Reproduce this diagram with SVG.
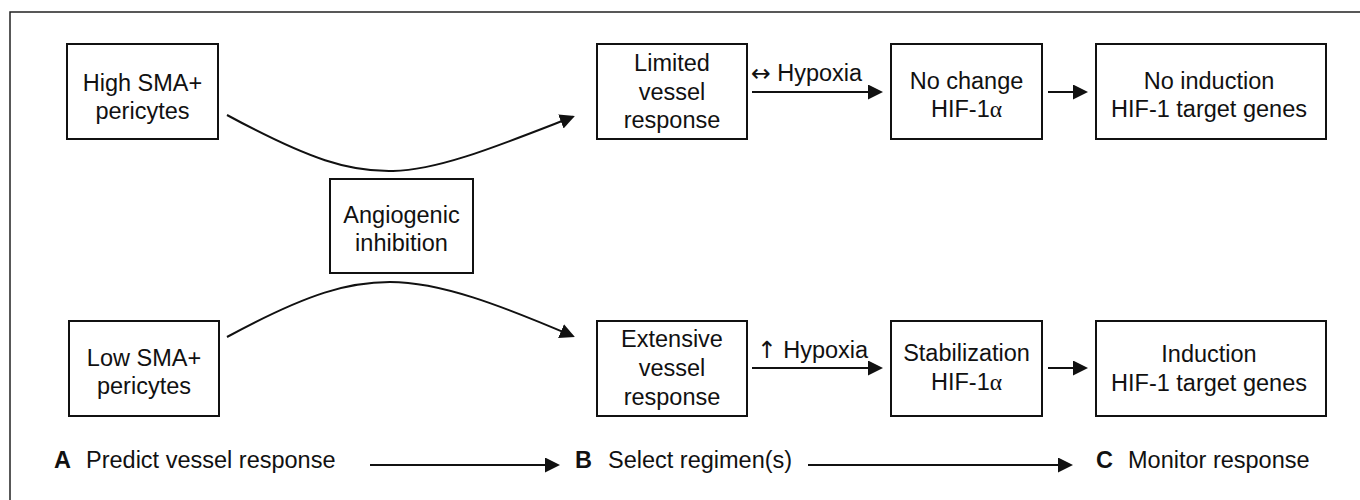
<svg xmlns="http://www.w3.org/2000/svg" width="1360" height="500" viewBox="0 0 1360 500">
  <style>
    .box { fill: #fff; stroke: #111; stroke-width: 2; }
    .t { font-family: "Liberation Sans", Arial, sans-serif; font-size: 23.5px; fill: #111; text-anchor: middle; }
    .l { font-family: "Liberation Sans", Arial, sans-serif; font-size: 23.5px; fill: #111; }
    .b { font-weight: bold; }
    .g { font-family: "Liberation Serif", "Times New Roman", serif; }
    .s { font-family: "DejaVu Sans", sans-serif; }
    .c { fill: none; stroke: #111; stroke-width: 2; }
  </style>
  <defs>
    <marker id="ah" viewBox="0 0 15 15" refX="13" refY="7.5" markerWidth="15" markerHeight="15" markerUnits="userSpaceOnUse" orient="auto">
      <path d="M0,0 L15,7.5 L0,15 z" fill="#111"/>
    </marker>
  </defs>
  <rect x="0" y="0" width="1360" height="500" fill="#fff"/>
  <rect id="frame" x="10" y="12" width="1400" height="560" fill="none" stroke="#222" stroke-width="1.5"/>

  <g id="connectors">
    <path class="c" d="M227,115 C310,160 350,172 393,171 C440,170 500,145 573,116.8" marker-end="url(#ah)"/>
    <path class="c" d="M227,337 C310,292 350,282 390,282 C440,282 500,305 573,336.2" marker-end="url(#ah)"/>
    <line class="c" x1="752" y1="92" x2="881" y2="92" marker-end="url(#ah)"/>
    <line class="c" x1="752" y1="368" x2="881" y2="368" marker-end="url(#ah)"/>
    <line class="c" x1="1048" y1="92" x2="1086" y2="92" marker-end="url(#ah)"/>
    <line class="c" x1="1048" y1="368" x2="1086" y2="368" marker-end="url(#ah)"/>
    <line class="c" x1="370" y1="465" x2="558" y2="465" marker-end="url(#ah)"/>
    <line class="c" x1="808" y1="465" x2="1071" y2="465" marker-end="url(#ah)"/>
    <text class="l" x="751" y="81"><tspan class="s">↔</tspan> Hypoxia</text>
    <text class="l" x="757" y="358"><tspan class="s">↑</tspan> Hypoxia</text>
  </g>

  <g id="high-sma">
    <rect class="box" x="67" y="44" width="151" height="95"/>
    <text class="t" x="142.5" y="91">High SMA+</text>
    <text class="t" x="142.5" y="119">pericytes</text>
  </g>
  <g id="low-sma">
    <rect class="box" x="69" y="321" width="150" height="95"/>
    <text class="t" x="144" y="366">Low SMA+</text>
    <text class="t" x="144" y="394">pericytes</text>
  </g>
  <g id="angiogenic">
    <rect class="box" x="330" y="179" width="143" height="94"/>
    <text class="t" x="401.5" y="223">Angiogenic</text>
    <text class="t" x="401.5" y="251">inhibition</text>
  </g>
  <g id="limited">
    <rect class="box" x="597" y="44" width="150" height="95"/>
    <text class="t" x="672" y="71">Limited</text>
    <text class="t" x="672" y="99.5">vessel</text>
    <text class="t" x="672" y="128">response</text>
  </g>
  <g id="extensive">
    <rect class="box" x="597" y="321" width="150" height="95"/>
    <text class="t" x="672" y="347">Extensive</text>
    <text class="t" x="672" y="376">vessel</text>
    <text class="t" x="672" y="404.5">response</text>
  </g>
  <g id="no-change">
    <rect class="box" x="891" y="44" width="151" height="95"/>
    <text class="t" x="966.5" y="88.5">No change</text>
    <text class="t" x="966.5" y="117">HIF-1<tspan class="g">α</tspan></text>
  </g>
  <g id="stabilization">
    <rect class="box" x="891" y="321" width="151" height="95"/>
    <text class="t" x="966.5" y="361">Stabilization</text>
    <text class="t" x="966.5" y="390">HIF-1<tspan class="g">α</tspan></text>
  </g>
  <g id="no-induction">
    <rect class="box" x="1096" y="44" width="230" height="95"/>
    <text class="t" x="1209" y="88.5">No induction</text>
    <text class="t" x="1209" y="117">HIF-1 target genes</text>
  </g>
  <g id="induction">
    <rect class="box" x="1096" y="321" width="230" height="95"/>
    <text class="t" x="1209" y="362">Induction</text>
    <text class="t" x="1209" y="391">HIF-1 target genes</text>
  </g>

  <g id="steps">
    <text class="l b" x="54" y="468">A</text>
    <text class="l" x="86" y="468">Predict vessel response</text>
    <text class="l b" x="575" y="468">B</text>
    <text class="l" x="608" y="468">Select regimen(s)</text>
    <text class="l b" x="1096" y="468">C</text>
    <text class="l" x="1128" y="468">Monitor response</text>
  </g>
</svg>
